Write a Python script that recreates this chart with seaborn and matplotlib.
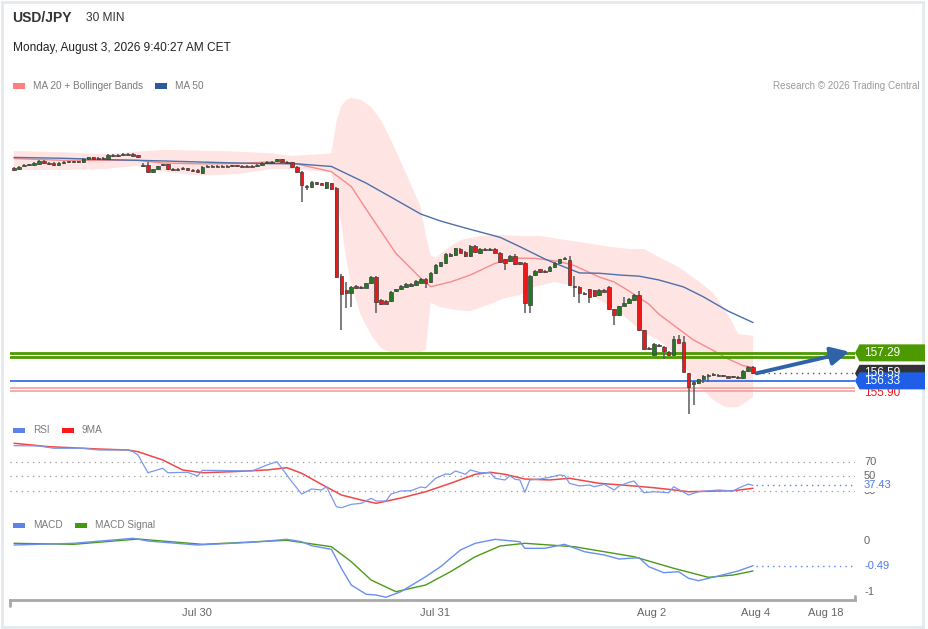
import numpy as np
import matplotlib
matplotlib.use("Agg")
import matplotlib.pyplot as plt
from matplotlib.patches import Polygon, Rectangle
import seaborn as sns

sns.set_theme(style="white")
plt.rcParams['font.family'] = ['Liberation Sans', 'DejaVu Sans']

## candles (30 min)
opens = [163.63, 163.58, 163.71, 163.73, 163.73, 163.77, 163.87, 163.80, 163.80, 163.72,
         163.81, 163.83, 163.84, 163.83, 163.83, 163.95, 164.00, 163.97, 163.96, 163.95,
         164.05, 164.07, 164.07, 164.08, 164.10, 164.06, 163.70, 163.73, 163.50, 163.58,
         163.72, 163.76, 163.59, 163.57, 163.63, 163.62, 163.57, 163.56, 163.47, 163.67,
         163.70, 163.67, 163.70, 163.67, 163.69, 163.71, 163.70, 163.67, 163.70, 163.70,
         163.73, 163.80, 163.81, 163.86, 163.93, 163.83, 163.83, 163.66, 163.50, 163.01,
         162.97, 163.14, 163.10, 162.93, 163.11, 162.95, 159.93, 159.44, 159.35, 159.58,
         159.52, 159.52, 159.67, 159.90, 159.10, 159.07, 159.07, 159.41, 159.47, 159.56,
         159.59, 159.62, 159.68, 159.83, 159.71, 160.02, 160.28, 160.36, 160.62, 160.64,
         160.85, 160.74, 160.61, 160.96, 160.70, 160.85, 160.82, 160.85, 160.72, 160.50,
         160.44, 160.62, 160.39, 160.38, 158.93, 159.96, 160.15, 160.11, 160.10, 160.22,
         160.36, 160.50, 160.47, 159.59, 159.56, 159.35, 159.48, 159.44, 159.27, 159.44,
         159.56, 158.78, 158.59, 158.90, 159.00, 159.10, 159.27, 158.07, 157.47, 157.21,
         157.56, 157.50, 157.33, 157.21, 157.76, 157.67, 156.59, 156.22, 156.24, 156.39,
         156.51, 156.54, 156.51, 156.49, 156.49, 156.46, 156.46, 156.42, 156.66, 156.81]
closes = [163.56, 163.67, 163.73, 163.76, 163.79, 163.87, 163.80, 163.77, 163.72, 163.81,
          163.84, 163.84, 163.83, 163.84, 163.95, 164.00, 163.94, 163.93, 163.94, 164.08,
          164.08, 164.05, 164.10, 164.11, 164.05, 164.00, 163.74, 163.49, 163.59, 163.70,
          163.76, 163.59, 163.57, 163.59, 163.59, 163.57, 163.53, 163.48, 163.67, 163.70,
          163.67, 163.70, 163.67, 163.70, 163.72, 163.69, 163.67, 163.70, 163.67, 163.74,
          163.79, 163.83, 163.83, 163.93, 163.82, 163.80, 163.66, 163.49, 163.05, 162.98,
          163.14, 163.07, 163.06, 163.14, 162.91, 159.90, 159.31, 159.35, 159.56, 159.52,
          159.56, 159.67, 159.90, 159.04, 158.96, 158.98, 159.38, 159.47, 159.59, 159.64,
          159.64, 159.75, 159.83, 159.70, 160.04, 160.30, 160.39, 160.67, 160.67, 160.87,
          160.72, 160.61, 160.96, 160.74, 160.86, 160.82, 160.85, 160.72, 160.39, 160.38,
          160.62, 160.34, 160.34, 158.99, 159.93, 160.11, 160.05, 160.05, 160.24, 160.36,
          160.50, 160.53, 159.62, 159.56, 159.33, 159.31, 159.21, 159.24, 159.44, 159.39,
          158.78, 158.59, 158.90, 159.00, 159.14, 159.27, 158.07, 157.41, 157.43, 157.59,
          157.52, 157.36, 157.21, 157.76, 157.64, 156.64, 156.13, 156.30, 156.38, 156.50,
          156.53, 156.56, 156.53, 156.48, 156.44, 156.47, 156.42, 156.68, 156.81, 156.59]
highs = [163.66, 163.70, 163.75, 163.78, 163.82, 163.90, 163.90, 163.83, 163.83, 163.83,
         163.87, 163.87, 163.87, 163.87, 163.97, 164.02, 164.02, 163.99, 163.99, 164.11,
         164.11, 164.10, 164.13, 164.14, 164.13, 164.07, 163.80, 163.82, 163.61, 163.71,
         163.78, 163.77, 163.62, 163.62, 163.65, 163.64, 163.59, 163.58, 163.70, 163.72,
         163.72, 163.72, 163.72, 163.72, 163.74, 163.73, 163.72, 163.72, 163.72, 163.77,
         163.82, 163.86, 163.86, 163.95, 163.95, 163.86, 163.85, 163.68, 163.54, 163.05,
         163.17, 163.16, 163.13, 163.16, 163.13, 162.98, 159.99, 159.73, 159.58, 159.62,
         159.59, 159.70, 159.93, 159.93, 159.13, 159.10, 159.41, 159.49, 159.62, 159.67,
         159.67, 159.79, 159.86, 159.86, 160.06, 160.33, 160.42, 160.70, 160.70, 160.90,
         160.87, 160.77, 160.99, 160.99, 160.88, 160.88, 160.88, 160.88, 160.75, 160.52,
         160.64, 160.67, 160.42, 160.40, 159.96, 160.13, 160.18, 160.13, 160.27, 160.39,
         160.52, 160.59, 160.62, 159.92, 159.58, 159.39, 159.49, 159.46, 159.48, 159.48,
         159.58, 158.79, 158.91, 159.21, 159.16, 159.31, 159.41, 158.09, 157.49, 157.62,
         157.58, 157.52, 157.35, 157.87, 157.90, 157.87, 156.60, 156.32, 156.40, 156.53,
         156.56, 156.59, 156.56, 156.53, 156.51, 156.49, 156.48, 156.70, 156.84, 156.84]
lows = [163.52, 163.56, 163.68, 163.70, 163.70, 163.73, 163.77, 163.73, 163.70, 163.70,
        163.78, 163.80, 163.80, 163.80, 163.80, 163.92, 163.90, 163.90, 163.90, 163.92,
        164.02, 164.02, 164.04, 164.06, 164.02, 163.97, 163.66, 163.47, 163.45, 163.56,
        163.70, 163.57, 163.54, 163.54, 163.57, 163.54, 163.50, 163.46, 163.41, 163.65,
        163.65, 163.65, 163.65, 163.65, 163.66, 163.66, 163.65, 163.65, 163.65, 163.67,
        163.71, 163.78, 163.78, 163.83, 163.80, 163.78, 163.64, 163.47, 162.47, 162.87,
        162.94, 163.05, 163.03, 162.91, 162.87, 159.87, 158.07, 158.83, 158.87, 159.49,
        159.49, 159.50, 159.65, 158.64, 158.93, 158.96, 159.05, 159.38, 159.44, 159.53,
        159.56, 159.59, 159.67, 159.53, 159.68, 159.99, 160.25, 160.34, 160.59, 160.62,
        160.70, 160.58, 160.59, 160.71, 160.68, 160.78, 160.78, 160.70, 160.37, 160.13,
        160.42, 160.30, 160.30, 158.64, 158.65, 159.93, 160.03, 160.03, 160.07, 160.20,
        160.34, 160.47, 159.59, 159.21, 159.01, 159.27, 159.00, 159.20, 159.24, 159.36,
        158.76, 158.24, 158.55, 158.88, 158.98, 159.08, 158.05, 157.39, 157.40, 157.18,
        157.50, 157.08, 157.18, 157.18, 157.62, 156.62, 155.21, 155.50, 156.22, 156.26,
        156.29, 156.51, 156.48, 156.45, 156.42, 156.42, 156.39, 156.39, 156.64, 156.57]

## moving averages and bands (candle index, price)
ma20_i = [0, 10, 20, 25, 30, 38, 45, 52, 57, 64, 68, 72, 77, 82, 84, 88, 92, 97, 101, 105,
          110, 113, 118, 121, 124, 128, 130, 134, 137, 141, 144, 147, 149]
ma20_v = [163.95, 163.89, 163.89, 163.89, 163.80, 163.77, 163.78, 163.84, 163.77, 163.50,
          162.99, 161.96, 160.70, 159.85, 159.56, 159.72, 159.96, 160.36, 160.54, 160.53,
          160.42, 160.28, 159.89, 159.72, 159.41, 158.96, 158.62, 158.11, 157.73, 157.37,
          157.08, 156.85, 156.79]
ma50_i = [0, 10, 20, 30, 40, 50, 57, 64, 71, 76, 82, 86, 91, 98, 102, 107, 110, 114, 118,
          122, 126, 130, 135, 139, 144, 149]
ma50_v = [163.99, 163.96, 163.91, 163.87, 163.82, 163.78, 163.77, 163.68, 163.11, 162.63,
          162.05, 161.81, 161.57, 161.25, 160.93, 160.51, 160.30, 160.03, 160.02, 159.96,
          159.92, 159.79, 159.55, 159.21, 158.72, 158.33]
up_i = [0, 10, 18, 25, 30, 38.5, 45, 52, 56, 64, 65, 66, 67, 68, 70, 72, 74, 76, 78, 80,
        82, 83, 84, 85, 87, 90, 94, 98, 102, 106, 110, 114, 120, 124, 127, 130, 134, 138,
        141, 144, 146, 149]
up_v = [164.21, 164.17, 164.10, 164.19, 164.25, 164.22, 164.19, 164.13, 164.04, 164.13,
        165.21, 165.76, 165.96, 166.03, 165.96, 165.72, 165.27, 164.59, 163.83, 163.08,
        162.29, 161.33, 160.64, 160.54, 160.82, 161.16, 161.30, 161.33, 161.30, 161.30,
        161.19, 161.09, 160.93, 160.85, 160.85, 160.58, 160.23, 159.75, 159.34, 158.59,
        157.94, 157.87]
lo_i = [0, 10, 18, 25, 29, 36, 38.5, 45, 52, 56, 64, 65, 66, 67, 68, 70, 72, 74, 76, 78,
        80, 82, 83, 84, 86, 89, 92, 96, 99, 102, 105, 109, 114, 118, 122, 127, 130, 134,
        137, 141, 143.5, 146, 149]
lo_v = [163.56, 163.56, 163.59, 163.70, 163.53, 163.39, 163.37, 163.42, 163.59, 163.59,
        163.49, 162.53, 161.67, 160.47, 159.62, 158.55, 157.90, 157.45, 157.31, 157.31,
        157.31, 157.31, 157.39, 159.00, 158.86, 158.76, 158.72, 158.96, 159.17, 159.27,
        159.55, 159.72, 159.55, 159.10, 158.69, 157.97, 157.73, 157.15, 156.36, 155.67,
        155.43, 155.43, 155.77]

## RSI and its 9MA
rsi_i = [0, 5, 8, 14, 17, 23, 24, 25, 27, 30, 31, 35, 37, 38, 44, 48, 51, 53, 54, 56,
         58, 60, 62, 63, 65, 66, 68, 70, 72, 73, 75, 76, 78, 80, 82, 83, 85, 87, 88, 89,
         91, 92, 94, 96, 97, 99, 100, 101, 102, 103, 104, 106, 108, 110, 111, 112, 114,
         116, 117, 119, 121, 122, 124, 125, 127, 129, 132, 133, 136, 138, 142, 145, 146,
         148, 149]
rsi_v = [92.1, 91.7, 88.5, 88.5, 86.1, 86.1, 83.8, 79.2, 54.8, 60.9, 54.8, 55.4, 50.3,
         58.1, 57.6, 57.2, 65.4, 70.0, 60.9, 42.4, 25.4, 32.3, 31.0, 35.5, 7.9, 6.6, 11.2,
         12.6, 19.5, 15.8, 15.8, 25.4, 29.6, 30.0, 35.1, 34.1, 47.1, 53.0, 52.6, 57.2, 52.6,
         58.6, 54.8, 54.8, 47.1, 44.8, 50.7, 45.7, 44.8, 27.8, 44.8, 46.1, 48.5, 51.7, 50.7,
         40.2, 36.5, 37.9, 35.5, 38.8, 31.0, 36.5, 41.6, 43.4, 27.2, 28.6, 27.2, 35.5, 24.1,
         28.6, 31.0, 29.6, 33.3, 39.2, 37.43]
rsi_ma_i = [0, 7, 17, 23, 25, 30, 34, 38, 44, 51, 55, 58, 62, 66, 70, 73, 78, 83, 88, 93,
            96, 99, 103, 108, 112, 118, 125, 129, 132, 136, 142, 145, 149]
rsi_ma_v = [95.4, 90.7, 87.5, 86.1, 83.8, 72.3, 58.6, 54.8, 56.2, 58.6, 61.7, 54.0, 38.8,
            24.1, 17.2, 12.6, 19.9, 28.6, 40.2, 52.6, 55.4, 52.6, 46.1, 44.8, 47.1, 40.2,
            36.5, 34.1, 31.9, 28.6, 29.6, 30.0, 33.3]
rsi_levels = [70, 50, 30]

## MACD
macd_i = [0, 12, 24, 27, 37, 48, 55, 58, 60, 64, 66, 68, 71, 73, 75, 78, 83, 86, 90, 93,
          97, 102, 103, 107, 111, 115, 119, 122, 126, 128, 131, 134, 136, 138, 142, 146, 149]
macd_v = [-0.084, -0.051, 0.047, -0.006, -0.084, -0.031, 0.027, -0.020, -0.098, -0.169,
          -0.541, -0.869, -1.051, -1.065, -1.110, -1.000, -0.706, -0.510, -0.182, -0.051,
          0.027, -0.020, -0.149, -0.149, -0.071, -0.216, -0.280, -0.359, -0.333, -0.510,
          -0.627, -0.608, -0.737, -0.784, -0.692, -0.594, -0.49]
sig_i = [0, 12, 25, 38, 55, 64, 68, 72, 77, 83, 88, 93, 98, 103, 113, 125, 133, 140, 145, 149]
sig_v = [-0.051, -0.071, 0.033, -0.071, 0.008, -0.118, -0.412, -0.771, -1.000, -0.869,
         -0.608, -0.314, -0.104, -0.051, -0.118, -0.314, -0.541, -0.718, -0.673, -0.594]

## levels and axis labels
resistance = [157.29, 157.16]
support = [156.33]
support2 = [156.07, 155.98]
support2_label = 155.90
last_price = 156.59
target = 157.33
tick_pos = [36.9, 84.9, 128.6, 149.6, 163.7]
tick_labels = ['Jul 30', 'Jul 31', 'Aug 2', 'Aug 4', 'Aug 18']

W, H = 929, 629
RED, GREEN = '#ea1a1a', '#237a23'


def fx(p):
    return p / W


def fy(p):
    return 1 - p / H


fig = plt.figure(figsize=(W / 100, H / 100), dpi=100)
fig.patch.set_facecolor('white')
fig.add_artist(Rectangle((fx(2), fy(627)), fx(921), 625 / H, transform=fig.transFigure,
                         fill=False, edgecolor='#e4e9ed', lw=2))

## header
fig.text(fx(12), fy(18), 'USD/JPY', fontsize=10, fontweight='bold', color='#333333', va='center')
fig.text(fx(86), fy(18), '30 MIN', fontsize=8.6, color='#333333', va='center')
fig.text(fx(13), fy(48), 'Monday, August 3, 2026 9:40:27 AM CET', fontsize=8.6, color='#222222', va='center')
fig.text(fx(920), fy(86), 'Research \u00a9 2026 Trading Central', fontsize=7.1, color='#9a9a9a',
         va='center', ha='right')


def legend_item(x, y, color, label):
    fig.add_artist(Rectangle((fx(x), fy(y + 2.5)), 12 / W, 5 / H, transform=fig.transFigure,
                             color=color, lw=0))
    fig.text(fx(x + 20), fy(y), label, fontsize=7.2, color='#7a7a7a', va='center')


legend_item(13, 86, '#ff7f7f', 'MA 20 + Bollinger Bands')
legend_item(155, 86, '#2f5a9a', 'MA 50')
legend_item(13, 430, '#5b84e8', 'RSI')
legend_item(62, 430, '#ff1a1a', '9MA')
legend_item(13, 525, '#5b84e8', 'MACD')
legend_item(75, 525, '#3f9a10', 'MACD Signal')

XMIN, XMAX = -0.81, 169.56

## price panel
ax = fig.add_axes([fx(10), fy(415), 845 / W, 320 / H])
ax.set_xlim(XMIN, XMAX)
ax.set_ylim(155.16, 166.13)
ax.axis('off')

ax.fill(np.r_[up_i, lo_i[::-1]], np.r_[up_v, lo_v[::-1]], color='#ffe4e4', lw=0, zorder=1)
sns.lineplot(x=ma20_i, y=ma20_v, ax=ax, color='#f78b8b', linewidth=1, estimator=None,
             sort=False, legend=False, zorder=2)
sns.lineplot(x=ma50_i, y=ma50_v, ax=ax, color='#4c70aa', linewidth=1, estimator=None,
             sort=False, legend=False, zorder=2)

for lv in resistance:
    ax.axhline(lv, color='#4c9a00', lw=2, zorder=3)
for lv in support:
    ax.axhline(lv, color='#2166e6', lw=1.2, zorder=3)
for lv in support2:
    ax.axhline(lv, color='#f5a5a5', lw=1.3, zorder=3)

o = np.array(opens)
c = np.array(closes)
idx = np.arange(len(c))
ax.vlines(idx, lows, highs, colors='#5a5a5a', lw=1.1, zorder=4)
body_h = np.maximum(np.abs(c - o), 0.035)
body_col = np.where(c >= o, GREEN, RED)
ax.bar(idx, body_h, bottom=np.minimum(o, c), width=0.72, color=body_col,
       edgecolor='#3c3c3c', linewidth=0.5, zorder=5)

ax.hlines(last_price, len(c) - 0.2, XMAX, colors='#555555', linestyles=(0, (1, 3)), lw=1, zorder=3)
ax.annotate('', xy=(168.4, target), xytext=(len(c) - 0.3, closes[-1]), annotation_clip=False,
            arrowprops=dict(arrowstyle='-|>,head_length=1.1,head_width=0.55', lw=2.8,
                            color='#2f62a6', shrinkA=0, shrinkB=0, mutation_scale=10), zorder=6)


def price_tag(axis, value, color, text):
    ypix = axis.transData.transform((0, value))[1]
    pts = [(855, ypix), (859.5, ypix + 8.5), (925, ypix + 8.5), (925, ypix - 8.5), (859.5, ypix - 8.5)]
    fig.add_artist(Polygon([(px / W, py / H) for px, py in pts], closed=True,
                           transform=fig.transFigure, color=color, lw=0))
    fig.text(fx(864), ypix / H, text, color='white', fontsize=8.5, va='center')


price_tag(ax, resistance[0], '#4c9a00', f'{resistance[0]:.2f}')
price_tag(ax, last_price, '#333333', f'{last_price:.2f}')
price_tag(ax, support[0], '#1f5fe8', f'{support[0]:.2f}')
ax.text(1.0107, support2_label, f'{support2_label:.2f}', transform=ax.get_yaxis_transform(),
        color='#f01818', fontsize=8.5, va='center')

## RSI panel
ax2 = fig.add_axes([fx(10), fy(515), 845 / W, 80 / H])
ax2.set_xlim(XMIN, XMAX)
ax2.set_ylim(-3.5, 106.8)
ax2.axis('off')
for lv in rsi_levels:
    ax2.axhline(lv, color='#9a9a9a', lw=0.9, linestyle=(0, (1, 3.5)))
    ax2.text(1.0107, lv, str(lv), transform=ax2.get_yaxis_transform(), color='#666666',
             fontsize=8, va='center')
sns.lineplot(x=rsi_ma_i, y=rsi_ma_v, ax=ax2, color='#f04848', linewidth=1.1, estimator=None,
             sort=False, legend=False)
sns.lineplot(x=rsi_i, y=rsi_v, ax=ax2, color='#7b98ef', linewidth=0.9, estimator=None,
             sort=False, legend=False)
ax2.hlines(rsi_v[-1], rsi_i[-1] + 0.5, XMAX, colors='#5b84e8', linestyles=(0, (1, 3)), lw=1)
ax2.text(1.0107, rsi_v[-1], f'{rsi_v[-1]:.2f}', transform=ax2.get_yaxis_transform(),
         color='#4f7ae6', fontsize=8, va='center',
         bbox=dict(boxstyle='square,pad=0.12', fc='white', ec='none'))

## MACD panel
ax3 = fig.add_axes([fx(10), fy(600), 845 / W, 70 / H])
ax3.set_xlim(XMIN, XMAX)
ax3.set_ylim(-1.163, 0.21)
ax3.set_facecolor('none')
for s in ['left', 'right', 'top']:
    ax3.spines[s].set_visible(False)
ax3.spines['bottom'].set_color('#a8a8a8')
ax3.spines['bottom'].set_linewidth(2)
sns.lineplot(x=sig_i, y=sig_v, ax=ax3, color='#4a9a1a', linewidth=1, estimator=None,
             sort=False, legend=False)
sns.lineplot(x=macd_i, y=macd_v, ax=ax3, color='#6a8ff0', linewidth=1, estimator=None,
             sort=False, legend=False)
ax3.hlines(macd_v[-1], macd_i[-1] + 0.5, XMAX, colors='#5b84e8', linestyles=(0, (1, 3)), lw=1)
for lv, col in [(0, '#666666'), (macd_v[-1], '#4f7ae6'), (-1, '#666666')]:
    lab = f'{lv:.2f}' if col != '#666666' else f'{lv:d}'
    ax3.text(1.0107, lv, lab, transform=ax3.get_yaxis_transform(), color=col, fontsize=8, va='center')
ax3.plot([0, 0], [0, -0.08], transform=ax3.transAxes, color='#a8a8a8', lw=2, clip_on=False)
ax3.plot([1, 1], [0, 0.06], transform=ax3.transAxes, color='#a8a8a8', lw=2, clip_on=False)
ax3.set_yticks([])
ax3.set_xticks(tick_pos)
ax3.set_xticklabels(tick_labels, fontsize=8, color='#666666')
ax3.tick_params(axis='x', length=0, pad=6)
ax3.set_xlabel('')
ax3.set_ylabel('')

fig.savefig('out.png', dpi=100, facecolor='white')
